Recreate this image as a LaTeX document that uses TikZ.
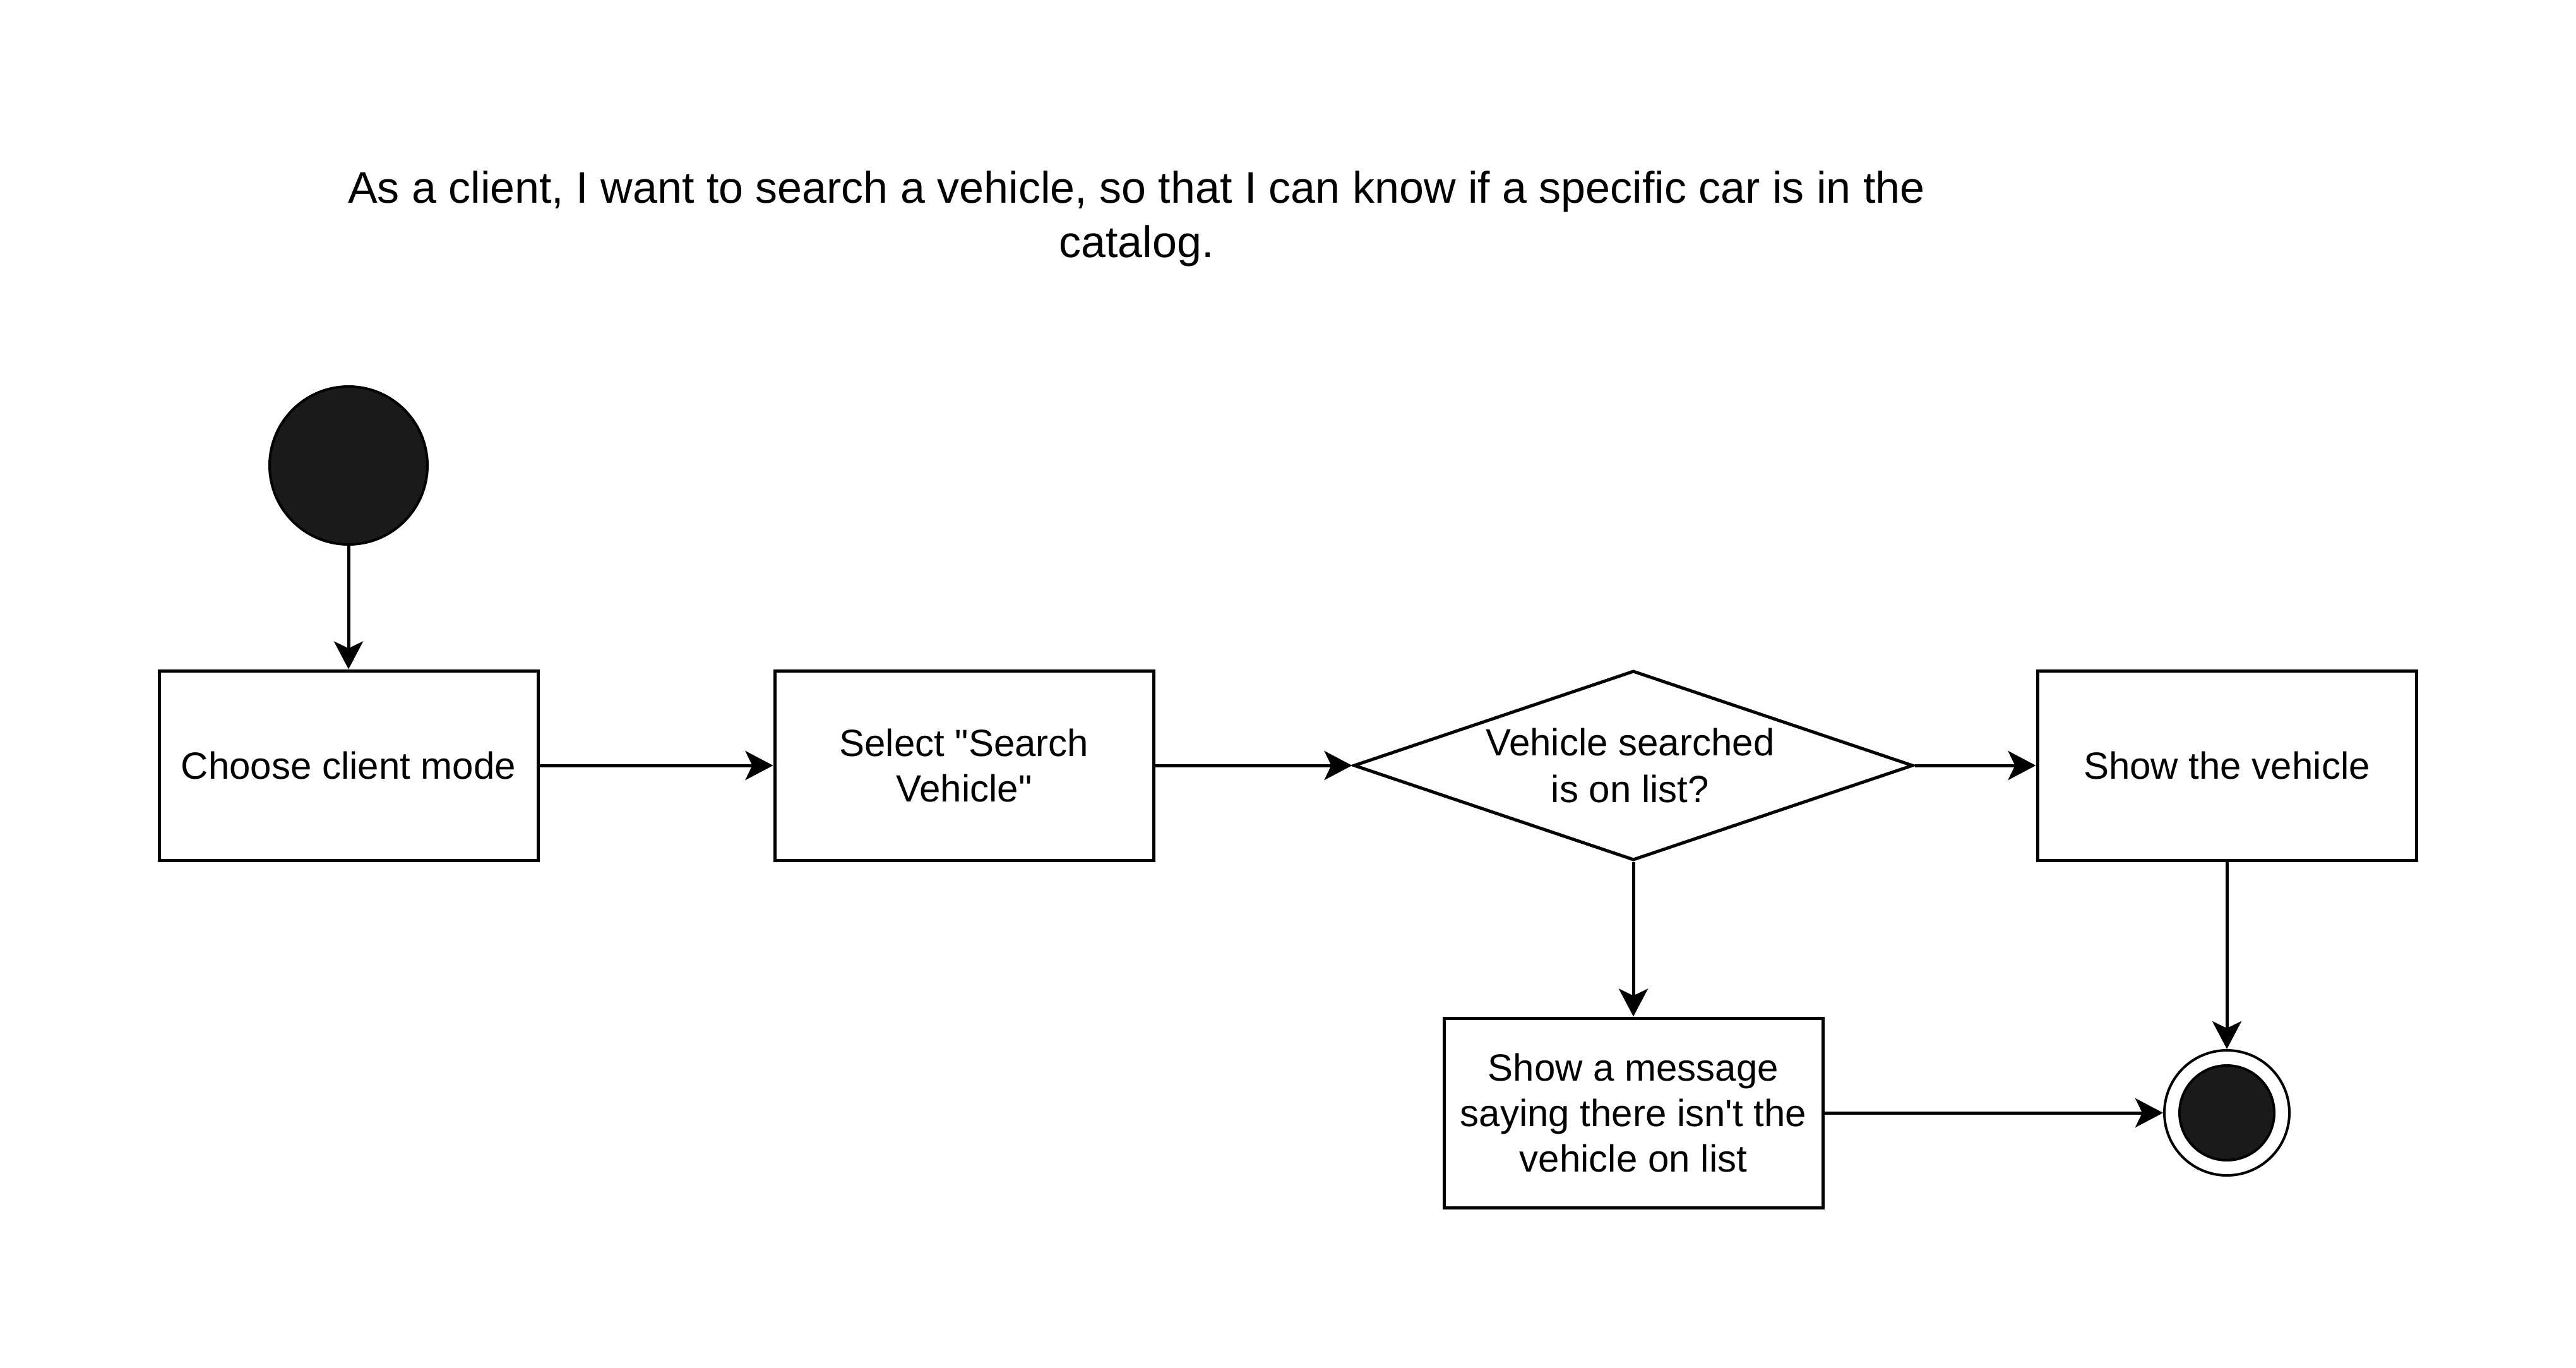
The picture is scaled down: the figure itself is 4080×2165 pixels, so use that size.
\documentclass[tikz,border=0pt]{standalone}
\usepackage{fontspec}
\setmainfont{Liberation Sans}[Ligatures=TeXOff]
\usetikzlibrary{shapes.geometric,arrows.meta}
\definecolor{dk}{HTML}{1A1A1A}
\tikzset{
  box/.style={draw=black, line width=1.25pt, fill=white, minimum width=150pt, minimum height=75pt, inner sep=0pt, align=center, font=\fontsize{15pt}{18pt}\selectfont},
  decision/.style={draw=black, line width=1.25pt, fill=white, diamond, minimum width=221.5pt, minimum height=75pt, inner sep=0pt},
  txt/.style={inner sep=0pt, align=center, font=\fontsize{15pt}{18.5pt}\selectfont},
  startst/.style={circle, draw=black, line width=1pt, fill=dk, minimum size=62.5pt, inner sep=0pt},
  endouter/.style={circle, draw=black, line width=1pt, fill=white, minimum size=49.5pt, inner sep=0pt},
  endinner/.style={circle, draw=black, line width=1pt, fill=dk, minimum size=37.5pt, inner sep=0pt},
  arr/.style={draw=black, line width=1.25pt, -{Stealth[length=11pt, width=11.5pt, inset=2.75pt]}},
  title/.style={inner sep=0pt, align=center, font=\fontsize{17.5pt}{21.5pt}\selectfont}
}
\begin{document}
\begin{tikzpicture}[x=0.25pt, y=-0.25pt]
\useasboundingbox (0,0) rectangle (4080,2165);
\fill[white] (0,0) rectangle (4080,2165);
\node[title] (ttl) at (1800,346) {As a client, I want to search a vehicle, so that I can know if a specific car is in the\\catalog.};
\node[startst] (start) at (552,737) {};
\node[box] (b1) at (552,1212) {Choose client mode};
\node[box] (b2) at (1527,1212) {Select "Search\\Vehicle"};
\node[decision] (d) at (2587,1212) {};
\node[txt] (dt) at (2582,1212) {Vehicle searched\\is on list?};
\node[box] (b3) at (3527,1212) {Show the vehicle};
\node[box] (b4) at (2587,1762) {Show a message\\saying there isn't the\\vehicle on list};
\node[endouter] (end) at (3527,1762) {};
\node[endinner] (endin) at (end) {};
\draw[arr] (start) -- (b1);
\draw[arr] (b1) -- (b2);
\draw[arr] (b2) -- (d.west);
\draw[arr] (d.east) -- (b3);
\draw[arr] (d.south) -- (b4);
\draw[arr] (b3) -- (end);
\draw[arr] (b4) -- (end);
\end{tikzpicture}
\end{document}
